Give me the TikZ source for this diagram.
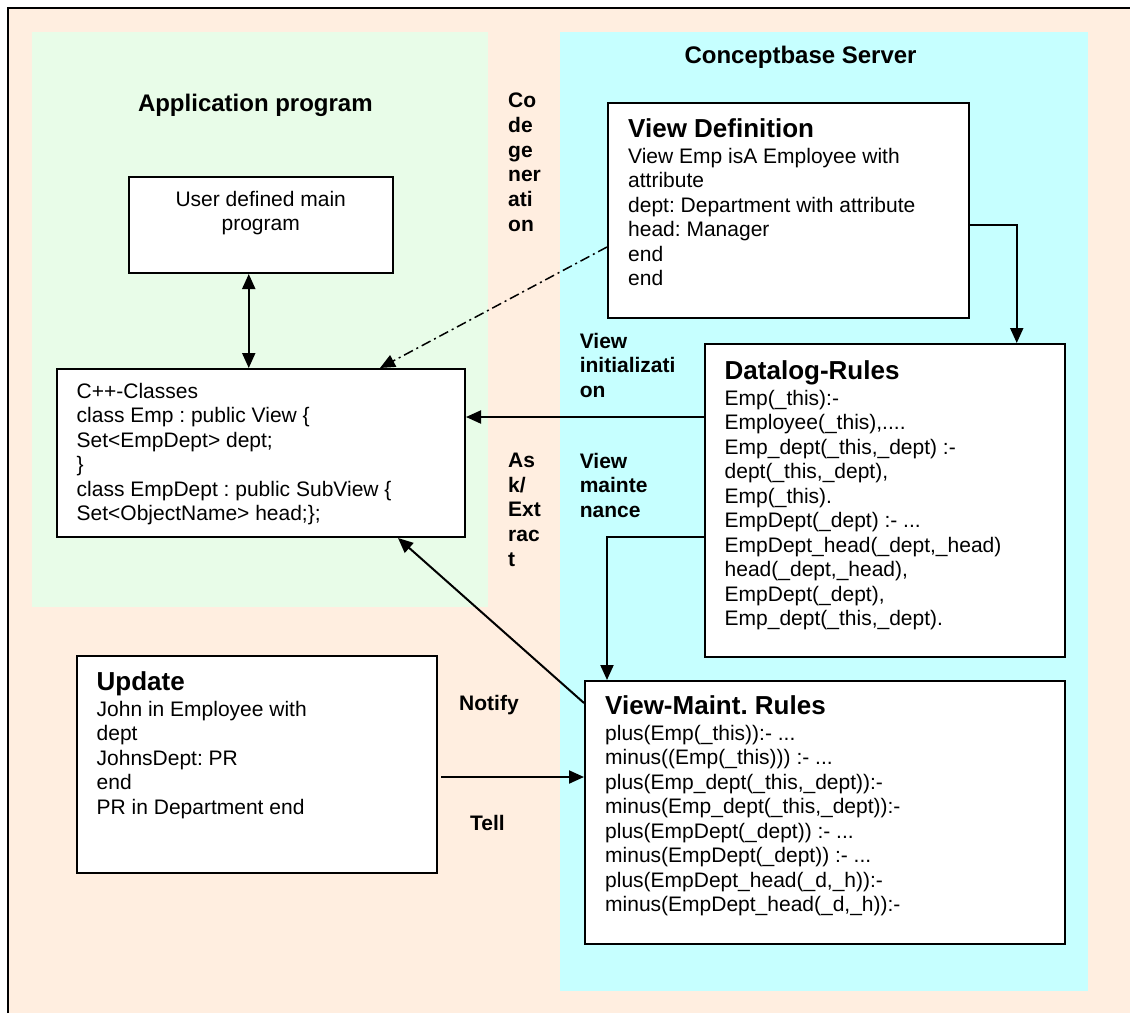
\documentclass[tikz,border=0pt]{standalone}
\usepackage{fontspec}
\setmainfont{Liberation Sans}
\frenchspacing
\usetikzlibrary{arrows.meta,positioning}
\definecolor{cbpeach}{HTML}{FFEEE0}
\definecolor{cbgreen}{HTML}{E8FCE8}
\definecolor{cbcyan}{HTML}{C6FFFF}
\newcommand{\cbbody}{\fontsize{21}{24.5}\selectfont}
\newcommand{\cbtitle}{\bfseries\fontsize{26}{30}\selectfont}
\newcommand{\cbtag}{\bfseries\fontsize{21}{24.7}\selectfont}
\newcommand{\cbhead}{\bfseries\fontsize{24}{28}\selectfont}
\tikzset{
  box/.style      = {draw, line width=2pt, fill=white, anchor=north west,
                     inner sep=0pt},
  boxtitle/.style = {anchor=base west, inner sep=0pt, font=\cbtitle},
  boxtext/.style  = {anchor=north west, inner sep=0pt, align=left, font=\cbbody},
  tag/.style      = {anchor=north west, inner sep=0pt, align=left, font=\cbtag},
  headline/.style = {anchor=base west, inner sep=0pt, font=\cbhead},
  sig/.style      = {-{Triangle[length=15pt,width=13pt]}, line width=2pt},
  sigboth/.style  = {{Triangle[length=15pt,width=13pt]}-{Triangle[length=15pt,width=13pt]},
                     line width=2pt},
}

\begin{document}
\begin{tikzpicture}[x=1pt,y=-1pt]
\useasboundingbox (0,0) rectangle (1130,1013);
% frame and the two areas
\fill[cbpeach] (7.8,7.8) rectangle (1130,1013);
\draw[line width=2.5pt] (7.8,1013) -- (7.8,7.8) -- (1130,7.8);
\fill[cbgreen] (32,32) rectangle (488,607);
\fill[cbcyan] (560,32) rectangle (1088,991);
\node[headline] (apphead) at (137.8,111.7) {Application program};
\node[headline] (srvhead) at (684.3,63.3) {Conceptbase Server};

% client side
\node[box, minimum width=264.5pt, minimum height=96pt] (mainprog) at (127.5,176) {};
\node[boxtext, align=center, anchor=north] (mainprogtext) at ([yshift=-14.7pt]mainprog.north)
  {User defined main\\program};
\node[box, minimum width=408pt, minimum height=168pt] (classes) at (56,368) {};
\node[boxtext] (classestext) at ([xshift=20.5pt,yshift=-14.7pt]classes.north west)
  {C++-Classes\\class Emp : public View \{\\Set<EmpDept> dept;\\\}\\
   class EmpDept : public SubView \{\\Set<ObjectName> head;\};};
\node[box, minimum width=360pt, minimum height=217pt] (update) at (76,655) {};
\node[boxtitle] (updatetitle) at ([xshift=20.5pt,yshift=-35pt]update.north west) {Update};
\node[boxtext, below=11pt of updatetitle.base west, anchor=north west] (updatetext)
  {John in Employee with\\dept\\JohnsDept: PR\\end\\PR in Department end};

% server side
\node[box, minimum width=361pt, minimum height=215pt] (viewdef) at (607,102) {};
\node[boxtitle] (viewdeftitle) at ([xshift=21pt,yshift=-35pt]viewdef.north west) {View Definition};
\node[boxtext, below=11pt of viewdeftitle.base west, anchor=north west] (viewdeftext)
  {View Emp isA Employee with\\attribute\\dept: Department with attribute\\
   head: Manager\\end\\end};
\node[box, minimum width=360.5pt, minimum height=313pt] (datalog) at (703.5,343) {};
\node[boxtitle] (datalogtitle) at ([xshift=21pt,yshift=-36pt]datalog.north west) {Datalog-Rules};
\node[boxtext, below=11pt of datalogtitle.base west, anchor=north west] (datalogtext)
  {Emp(\_this):-\\Employee(\_this),....\\Emp\_dept(\_this,\_dept) :-\\
   dept(\_this,\_dept),\\Emp(\_this).\\EmpDept(\_dept) :- ...\\
   EmpDept\_head(\_dept,\_head)\\head(\_dept,\_head),\\EmpDept(\_dept),\\
   Emp\_dept(\_this,\_dept).};
\node[box, minimum width=480pt, minimum height=263pt] (maintrules) at (584,680) {};
\node[boxtitle] (maintrulestitle) at ([xshift=21pt,yshift=-34pt]maintrules.north west)
  {View-Maint. Rules};
\node[boxtext, below=11pt of maintrulestitle.base west, anchor=north west] (maintrulestext)
  {plus(Emp(\_this)):- ...\\minus((Emp(\_this))) :- ...\\
   plus(Emp\_dept(\_this,\_dept)):-\\minus(Emp\_dept(\_this,\_dept)):-\\
   plus(EmpDept(\_dept)) :- ...\\minus(EmpDept(\_dept)) :- ...\\
   plus(EmpDept\_head(\_d,\_h)):-\\minus(EmpDept\_head(\_d,\_h)):-};

% connector labels
\node[tag] (codegen) at (508,93) {Co\\de\\ge\\ner\\ati\\on};
\node[tag] (askextract) at (508,452.7) {As\\k/\\Ext\\rac\\t};
\node[tag] (viewinit) at (579.6,332.7) {View\\initializati\\on};
\node[tag] (viewmaint) at (579.6,452.7) {View\\mainte\\nance};
\node[tag, anchor=base west] (notify) at (459,710) {Notify};
\node[tag, anchor=base west] (tell) at (470,830) {Tell};

% connectors
\coordinate (progdock) at ([xshift=-12pt]mainprog.south);
\draw[sigboth] (progdock) -- (progdock |- classes.north);
\draw[sig, line width=1.5pt, dash pattern=on 10pt off 4pt on 2pt off 4pt]
  ([yshift=-145pt]viewdef.north west) -- ([xshift=119pt]classes.north);
\draw[sig] ([yshift=-14.5pt]viewdef.east) -| ([xshift=132pt]datalog.north);
\coordinate (initpt) at ([yshift=83.5pt]datalog.west);
\draw[sig] (initpt) -- (initpt -| classes.east);
\coordinate (maintpt) at ([yshift=-36.5pt]datalog.west);
\draw[sig] (maintpt) -| ([xshift=23pt]maintrules.north west);
\draw[sig] ([yshift=-23pt]maintrules.north west) -- ([xshift=137pt]classes.south);
\coordinate (tellpt) at ([xshift=3pt,yshift=-12.5pt]update.east);
\draw[sig] (tellpt) -- (tellpt -| maintrules.west);
\end{tikzpicture}
\end{document}
